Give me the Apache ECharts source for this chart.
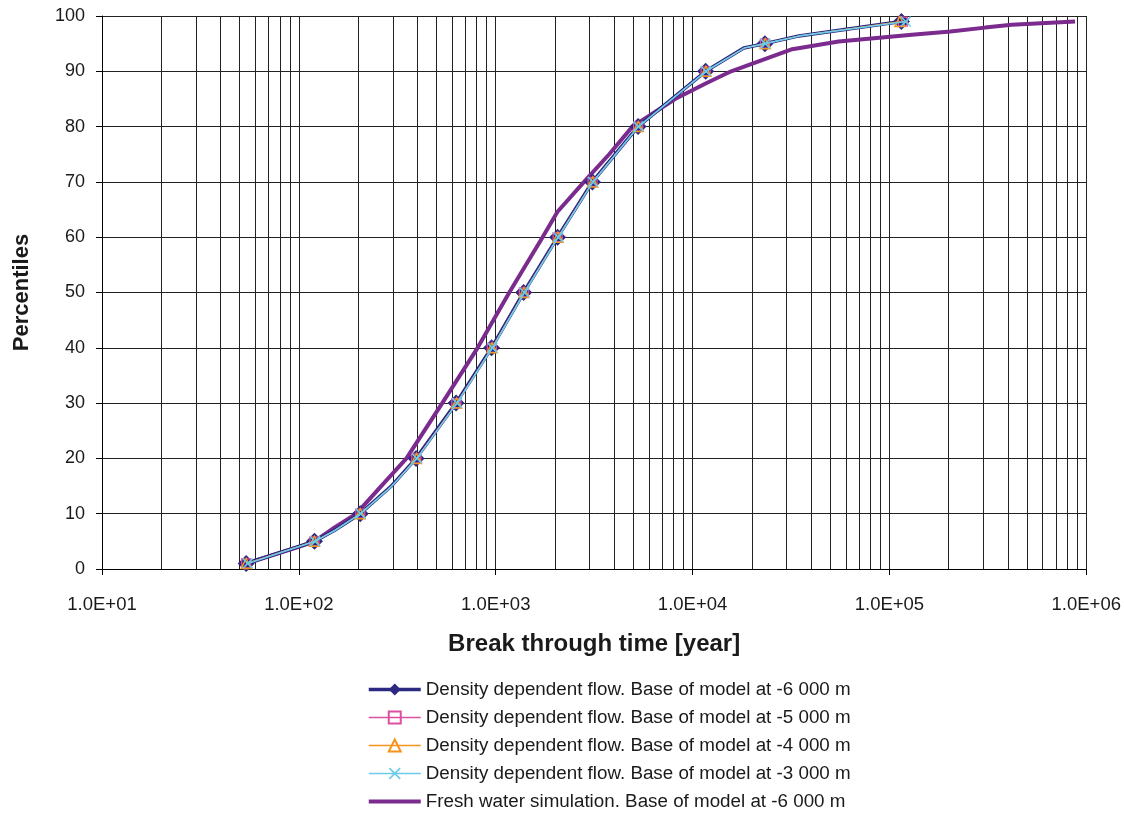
<!DOCTYPE html>
<html>
<head>
<meta charset="utf-8">
<script src="https://cdn.jsdelivr.net/npm/echarts@6/dist/echarts.min.js"></script>
<style>
  html, body { margin: 0; padding: 0; background: #fff; }
  #chart { width: 1124px; height: 814px; }
</style>
</head>
<body>
<div id="chart"></div>
<script>
// Tick labels of the logarithmic time axis (one per decade, 10 .. 1e6)
const xTickLabels = ['1.0E+01', '1.0E+02', '1.0E+03', '1.0E+04', '1.0E+05', '1.0E+06'];

// Percentiles that carry a marker on the density-dependent curves
const markerPercentiles = [1, 5, 10, 20, 30, 40, 50, 60, 70, 80, 90, 95, 99];

// Density dependent flow: percentiles and break through times [year]
const densityPercentiles = [1, 5, 7, 10, 15, 20, 30, 40, 50, 60, 70, 80, 90, 94.2, 95, 96.4, 99];
const density6000 = [54, 120, 152, 205, 295, 394, 629, 953, 1386, 2061, 3099, 5285, 11650, 18200, 23300, 34700, 115000];
const density5000 = [54, 120, 152, 205, 295, 395, 631, 955, 1390, 2065, 3105, 5290, 11650, 18200, 23300, 34700, 117000];
const density4000 = [54, 120, 152, 205, 296, 396, 633, 958, 1393, 2070, 3110, 5300, 11700, 18300, 23400, 34800, 113000];
const density3000 = [55, 121, 153, 206, 297, 398, 636, 962, 1398, 2078, 3120, 5310, 11700, 18300, 23400, 35000, 121000];

// Fresh water simulation: percentiles and break through times [year]
const freshPercentiles = [1, 4, 5, 7.5, 10, 15, 20, 30, 40, 50, 60, 64.6, 70, 75, 80, 85, 87.8, 90, 94, 95.4, 96.6, 97.2, 97.9, 98.4, 99];
const freshTimes = [54, 100, 120, 152, 196, 262, 352, 535, 809, 1172, 1730, 2060, 2810, 3770, 4950, 8150, 11650, 15700, 32100, 55200, 130000, 204000, 306000, 418000, 877000];

const seriesNames = [
  'Density dependent flow. Base of model at -6 000 m',
  'Density dependent flow. Base of model at -5 000 m',
  'Density dependent flow. Base of model at -4 000 m',
  'Density dependent flow. Base of model at -3 000 m',
  'Fresh water simulation. Base of model at -6 000 m'
];

const FONT = '"Liberation Sans", Arial, sans-serif';
const TEXT = '#1a1a1a';
const GRIDC = '#222';
const NAVY = '#2b2a80', PINK = '#dd4fa0', ORANGE = '#f7941d', CYAN = '#6ccbe8', PURPLE = '#7b2a8e';
const CLEAR = 'rgba(255,255,255,0)';

// Points on a curve; only the marker percentiles get a symbol
function curve(times, pcts) {
  return times.map((t, i) => {
    const p = pcts[i];
    const item = { value: [t, p] };
    if (markerPercentiles.indexOf(p) < 0) item.symbol = 'none';
    return item;
  });
}

// Minor logarithmic grid lines at 2..9 x 10^n
const minorGrid = [];
for (let e = 1; e < 6; e++) {
  for (let k = 2; k <= 9; k++) minorGrid.push({ xAxis: k * Math.pow(10, e) });
}

const crossPath = 'path://M0,1L1,0L5,4L9,0L10,1L6,5L10,9L9,10L5,6L1,10L0,9L4,5Z';
const barPath = 'path://M0,0H52V4H0Z';

const chart = echarts.init(document.getElementById('chart'), null, { renderer: 'canvas' });

chart.setOption({
  animation: false,
  backgroundColor: '#fff',
  grid: { left: 102, right: 36, top: 16, bottom: 245, containLabel: false },
  xAxis: {
    type: 'log',
    logBase: 10,
    min: 10,
    max: 1000000,
    splitNumber: 5,
    name: 'Break through time [year]',
    nameLocation: 'middle',
    nameGap: 63,
    nameTextStyle: { fontFamily: FONT, fontSize: 24, fontWeight: 'bold', color: TEXT, verticalAlign: 'top' },
    axisLine: { show: true, lineStyle: { color: '#000', width: 1 } },
    axisTick: { show: true, inside: false, length: 6, lineStyle: { color: '#000' } },
    axisLabel: {
      margin: 26,
      fontFamily: FONT, fontSize: 18.5, color: TEXT,
      formatter: v => xTickLabels[Math.round(Math.log10(v)) - 1]
    },
    splitLine: { show: true, lineStyle: { color: GRIDC, width: 1 } },
    minorTick: { show: false },
    minorSplitLine: { show: false }
  },
  yAxis: {
    type: 'value',
    min: 0,
    max: 100,
    interval: 10,
    name: 'Percentiles',
    nameLocation: 'middle',
    nameGap: 69,
    nameTextStyle: { fontFamily: FONT, fontSize: 22, fontWeight: 'bold', color: TEXT },
    axisLine: { show: true, lineStyle: { color: '#000', width: 1 } },
    axisTick: { show: true, inside: false, length: 6, lineStyle: { color: '#000' } },
    axisLabel: { margin: 17, fontFamily: FONT, fontSize: 18, color: TEXT },
    splitLine: { show: true, lineStyle: { color: GRIDC, width: 1 } }
  },
  legend: {
    orient: 'vertical',
    left: 367,
    top: 680,
    padding: 0,
    itemWidth: 52,
    itemHeight: 15,
    itemGap: 9,
    lineStyle: { width: 'inherit' },
    data: [
      { name: seriesNames[0] },
      { name: seriesNames[1], lineStyle: { color: PINK, width: 1.3 } },
      { name: seriesNames[2], lineStyle: { color: ORANGE, width: 1.3 } },
      { name: seriesNames[3], lineStyle: { color: CYAN, width: 1.3 } },
      { name: seriesNames[4], icon: barPath }
    ],
    textStyle: { fontFamily: FONT, fontSize: 18.8, color: TEXT }
  },
  series: [
    {
      name: seriesNames[4],
      type: 'line',
      z: 2,
      data: curve(freshTimes, freshPercentiles),
      symbol: 'none',
      lineStyle: { color: PURPLE, width: 4 },
      itemStyle: { color: PURPLE },
      markLine: {
        z: 1,
        silent: true,
        symbol: ['none', 'none'],
        label: { show: false },
        lineStyle: { type: 'solid', color: GRIDC, width: 1 },
        emphasis: { disabled: true },
        data: minorGrid
      }
    },
    {
      name: seriesNames[0],
      type: 'line',
      z: 3,
      data: curve(density6000, densityPercentiles),
      symbol: 'diamond',
      symbolSize: 17,
      showAllSymbol: true,
      lineStyle: { color: NAVY, width: 3.5 },
      itemStyle: { color: NAVY }
    },
    {
      name: seriesNames[1],
      type: 'line',
      z: 4,
      data: curve(density5000, densityPercentiles),
      symbol: 'rect',
      symbolSize: 9,
      showAllSymbol: true,
      lineStyle: { color: PINK, width: 1 },
      itemStyle: { color: CLEAR, borderColor: PINK, borderWidth: 1.3 }
    },
    {
      name: seriesNames[2],
      type: 'line',
      z: 5,
      data: curve(density4000, densityPercentiles),
      symbol: 'triangle',
      symbolSize: 10,
      showAllSymbol: true,
      lineStyle: { color: ORANGE, width: 1 },
      itemStyle: { color: CLEAR, borderColor: ORANGE, borderWidth: 1.5 }
    },
    {
      name: seriesNames[3],
      type: 'line',
      z: 6,
      data: curve(density3000, densityPercentiles),
      symbol: crossPath,
      symbolSize: 11,
      showAllSymbol: true,
      lineStyle: { color: CYAN, width: 1.6 },
      itemStyle: { color: CYAN }
    }
  ]
});
</script>
</body>
</html>
